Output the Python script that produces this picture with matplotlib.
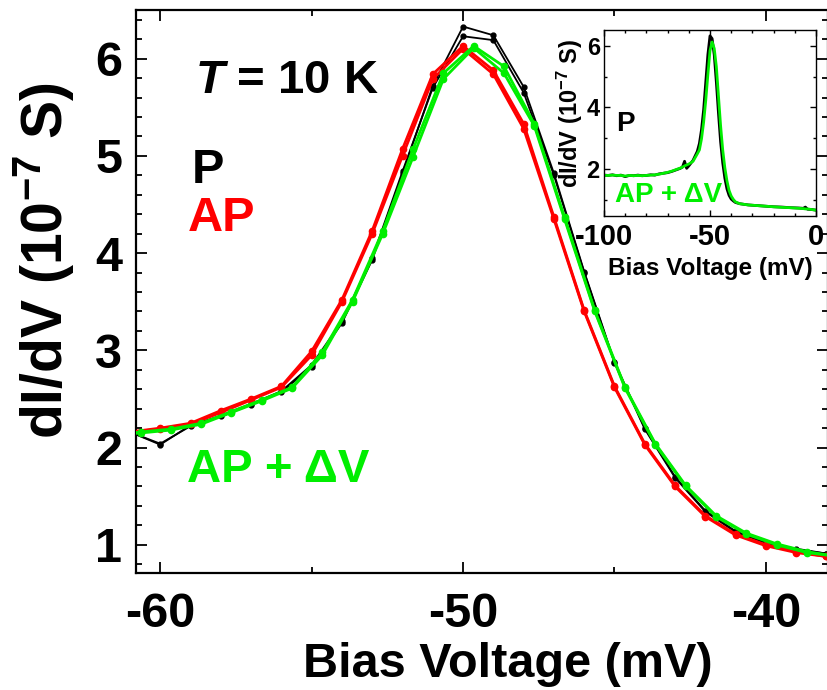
import matplotlib
matplotlib.use("Agg")
import matplotlib.pyplot as plt
from matplotlib.ticker import MultipleLocator

plt.rcParams['font.family'] = ['Liberation Sans', 'DejaVu Sans']
plt.rcParams['font.weight'] = 'bold'
plt.rcParams['axes.unicode_minus'] = False
plt.rcParams['mathtext.fontset'] = 'custom'
plt.rcParams['mathtext.rm'] = 'Liberation Sans:bold'
plt.rcParams['mathtext.bf'] = 'Liberation Sans:bold'
plt.rcParams['mathtext.it'] = 'Liberation Sans:italic:bold'

# main panel: dI/dV (1e-7 S) vs bias (mV), two sweeps per state
v_p = [-61, -60, -59, -58, -57, -56, -55, -54, -53, -52, -51, -50, -49, -48,
       -47, -46, -45, -44, -43, -42, -41, -40, -39, -38]
p_1 = [2.16, 2.03, 2.23, 2.32, 2.44, 2.57, 2.83, 3.28, 3.93, 4.82, 5.72, 6.33,
       6.24, 5.71, 4.82, 3.81, 2.88, 2.20, 1.70, 1.35, 1.14, 1.02, 0.96, 0.91]
p_2 = [2.16, 2.04, 2.22, 2.33, 2.45, 2.58, 2.85, 3.30, 3.95, 4.84, 5.70, 6.23,
       6.19, 5.65, 4.80, 3.80, 2.87, 2.19, 1.69, 1.34, 1.13, 1.02, 0.95, 0.91]

v_ap = [-61, -60, -59, -58, -57, -56, -55, -54, -53, -52, -51, -50, -49, -48,
        -47, -46, -45, -44, -43, -42, -41, -40, -39, -38]
ap_1 = [2.16, 2.20, 2.25, 2.38, 2.50, 2.63, 2.99, 3.52, 4.23, 5.07, 5.84, 6.13,
        5.88, 5.33, 4.37, 3.41, 2.63, 2.04, 1.61, 1.30, 1.11, 1.00, 0.93, 0.88]
ap_2 = [2.16, 2.19, 2.24, 2.36, 2.49, 2.62, 2.95, 3.50, 4.20, 5.00, 5.79, 6.10,
        5.84, 5.28, 4.35, 3.40, 2.62, 2.03, 1.60, 1.29, 1.10, 0.99, 0.92, 0.88]

v_sh = [-61.65, -60.65, -59.65, -58.65, -57.65, -56.65, -55.65, -54.65, -53.65,
        -52.65, -51.65, -50.65, -49.65, -48.65, -47.65, -46.65, -45.65, -44.65,
        -43.65, -42.65, -41.65, -40.65, -39.65, -38.65, -37.65]
sh_1 = [2.13, 2.16, 2.19, 2.25, 2.37, 2.49, 2.62, 2.98, 3.52, 4.23, 5.07, 5.85,
        6.13, 5.92, 5.33, 4.37, 3.41, 2.62, 2.04, 1.61, 1.30, 1.12, 1.01, 0.93, 0.88]
sh_2 = [2.13, 2.15, 2.18, 2.24, 2.36, 2.48, 2.61, 2.95, 3.50, 4.20, 4.99, 5.79,
        6.11, 5.85, 5.31, 4.35, 3.40, 2.61, 2.03, 1.60, 1.29, 1.11, 1.00, 0.92, 0.88]

# inset: wide bias range
v_in = [-100, -98, -96, -94, -92, -90, -88, -86, -84, -82, -80, -78, -76, -74,
        -72, -70, -68, -66, -64, -63, -62, -61, -60, -58, -56, -55, -54, -53,
        -52, -51, -50, -49, -48, -47, -46, -45, -44, -43, -42, -41, -40, -39,
        -38, -36, -32, -28, -24, -20, -16, -12, -8, -6, -5, -4, -2, 0]
p_in = [1.80, 1.79, 1.81, 1.78, 1.80, 1.75, 1.79, 1.78, 1.80, 1.78, 1.79, 1.81,
        1.80, 1.84, 1.86, 1.88, 1.92, 1.97, 2.02, 2.06, 2.25, 2.02, 2.10, 2.28,
        2.57, 2.83, 3.28, 3.93, 4.82, 5.72, 6.33, 6.24, 5.71, 4.82, 3.81, 2.88,
        2.20, 1.70, 1.35, 1.14, 1.02, 0.96, 0.91, 0.87, 0.83, 0.81, 0.79, 0.77,
        0.76, 0.74, 0.73, 0.72, 0.76, 0.69, 0.68, 0.66]
ap_in = [1.79, 1.79, 1.80, 1.79, 1.79, 1.77, 1.79, 1.78, 1.79, 1.78, 1.79, 1.80,
         1.81, 1.83, 1.86, 1.89, 1.93, 1.98, 2.03, 2.06, 2.10, 2.13, 2.16, 2.25,
         2.49, 2.62, 2.98, 3.52, 4.23, 5.07, 5.85, 6.13, 5.92, 5.33, 4.37, 3.41,
         2.62, 2.04, 1.61, 1.30, 1.12, 1.01, 0.93, 0.87, 0.83, 0.81, 0.79, 0.77,
         0.75, 0.74, 0.72, 0.71, 0.70, 0.70, 0.68, 0.66]

green = '#00ee00'
red = '#ff0000'

fig = plt.figure(figsize=(8.28, 6.9), dpi=100)
ax = fig.add_axes([136 / 828, 117 / 690, 692 / 828, 563 / 690])

ax.plot(v_p, p_1, '-o', color='black', lw=1.3, ms=3.5, zorder=3)
ax.plot(v_p, p_2, '-o', color='black', lw=1.3, ms=3.5, zorder=3)
ax.plot(v_ap, ap_1, '-o', color=red, lw=2.0, ms=4.5, zorder=4)
ax.plot(v_ap, ap_2, '-o', color=red, lw=2.0, ms=4.5, zorder=4)
ax.plot(v_sh, sh_1, '-o', color=green, lw=2.0, ms=4.5, zorder=5)
ax.plot(v_sh, sh_2, '-o', color=green, lw=2.0, ms=4.5, zorder=5)

ax.set_xlim(-60.8, -37.95)
ax.set_ylim(0.71, 6.5)
ax.xaxis.set_major_locator(MultipleLocator(10))
ax.xaxis.set_minor_locator(MultipleLocator(5))
ax.yaxis.set_major_locator(MultipleLocator(1))
ax.yaxis.set_minor_locator(MultipleLocator(0.2))
ax.tick_params(which='both', direction='in', top=True, right=True,
               width=1.3, labelsize=35)
ax.tick_params(axis='x', pad=14)
ax.tick_params(axis='y', pad=10)
ax.tick_params(which='major', length=8)
ax.tick_params(which='minor', length=4.5)
for s in ax.spines.values():
    s.set_linewidth(1.6)

ax.set_xlabel('Bias Voltage (mV)', fontsize=35, fontweight='bold',
              labelpad=3, x=0.538)
ax.set_ylabel(r'dI/dV (10$^{-7}$ S)', fontsize=41, fontweight='bold',
              labelpad=14, y=0.555)

ax.text(-58.85, 5.77, r'$\mathit{T}$ = 10 K', fontsize=34, ha='left', va='center')
ax.text(-58.95, 4.85, 'P', fontsize=35, color='black', ha='left', va='center')
ax.text(-59.1, 4.36, 'AP', fontsize=35, color=red, ha='left', va='center')
ax.text(-59.1, 1.77, 'AP + ΔV', fontsize=34, color=green, ha='left', va='center')

# inset
ins = fig.add_axes([604 / 828, 474 / 690, 212 / 828, 186 / 690])
ins.plot(v_in, p_in, color='black', lw=2.0)
ins.plot(v_in, ap_in, color=green, lw=2.0)
ins.set_xlim(-100, 0)
ins.set_ylim(0.47, 6.52)
ins.xaxis.set_major_locator(MultipleLocator(50))
ins.xaxis.set_minor_locator(MultipleLocator(10))
ins.yaxis.set_major_locator(MultipleLocator(2))
ins.yaxis.set_minor_locator(MultipleLocator(1))
ins.tick_params(which='both', direction='in', top=True, right=True,
                width=1.0, pad=4)
ins.tick_params(axis='x', labelsize=21, pad=5)
ins.tick_params(axis='y', labelsize=17, pad=3)
ins.tick_params(which='major', length=4)
ins.tick_params(which='minor', length=2.5)
for s in ins.spines.values():
    s.set_linewidth(1.0)
ins.set_xlabel('Bias Voltage (mV)', fontsize=17.5, fontweight='bold', labelpad=4)
ins.set_ylabel(r'dI/dV (10$^{-7}$ S)', fontsize=17, fontweight='bold',
               labelpad=1, y=0.55)
ins.text(-94.5, 3.45, 'P', fontsize=20, color='black', ha='left', va='center')
ins.text(-95, 1.15, 'AP + ΔV', fontsize=20, color=green, ha='left', va='center')

fig.savefig('out.png', dpi=100)
